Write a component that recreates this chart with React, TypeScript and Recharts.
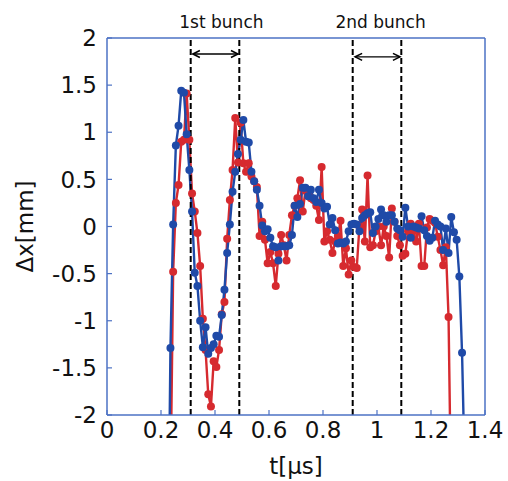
import {
  LineChart,
  Line,
  XAxis,
  YAxis,
  ReferenceLine,
} from "recharts";

// sample times [us], one reading every 10 ns
const TIME = [
  0.225, 0.235, 0.245, 0.255, 0.265, 0.275, 0.285, 0.295, 0.305, 0.315,
  0.325, 0.335, 0.345, 0.355, 0.365, 0.375, 0.385, 0.395, 0.405, 0.415,
  0.425, 0.435, 0.445, 0.455, 0.465, 0.475, 0.485, 0.495, 0.505, 0.515,
  0.525, 0.535, 0.545, 0.555, 0.565, 0.575, 0.585, 0.595, 0.605, 0.615,
  0.625, 0.635, 0.645, 0.655, 0.665, 0.675, 0.685, 0.695, 0.705, 0.715,
  0.725, 0.735, 0.745, 0.755, 0.765, 0.775, 0.785, 0.795, 0.805, 0.815,
  0.825, 0.835, 0.845, 0.855, 0.865, 0.875, 0.885, 0.895, 0.905, 0.915,
  0.925, 0.935, 0.945, 0.955, 0.965, 0.975, 0.985, 0.995, 1.005, 1.015,
  1.025, 1.035, 1.045, 1.055, 1.065, 1.075, 1.085, 1.095, 1.105, 1.115,
  1.125, 1.135, 1.145, 1.155, 1.165, 1.175, 1.185, 1.195, 1.205, 1.215,
  1.225, 1.235, 1.245, 1.255, 1.265, 1.275, 1.285, 1.295, 1.305, 1.315,
  1.325,
];

// beam position offset [mm]
const RED = [
  null, -2.8, -0.48, 0.25, 0.44, 0.9, 0.92, 1.41, 0.92, 0.35,
  0.16, -0.07, -0.42, -0.98, -1.31, -1.78, -1.91, -1.43, -1.49, -1.31,
  -0.93, -0.8, -0.13, 0.28, 0.6, 1.15, 0.68, 1.1, 0.67, 0.58,
  0.67, 0.53, 0.48, 0.42, -0.1, 0.05, -0.14, -0.39, -0.27, -0.39,
  -0.63, -0.29, -0.09, -0.2, -0.36, -0.09, 0.12, 0.22, 0.3, 0.49,
  0.16, 0.38, 0.36, 0.3, 0.28, 0.22, 0.07, 0.63, -0.16, -0.05,
  -0.14, -0.28, -0.16, -0.1, 0.06, -0.42, -0.23, -0.51, -0.36, -0.43,
  -0.44, 0.0, 0.18, -0.16, 0.54, -0.22, -0.2, -0.05, 0.0, -0.2,
  0.0, -0.1, -0.33, 0.19, 0.05, -0.1, -0.2, -0.31, -0.29, -0.05,
  0.03, -0.05, -0.16, 0.03, -0.42, -0.42, -0.01, 0.08, 0.06, 0.04,
  -0.11, -0.25, -0.41, -0.22, -0.96, -3.0, null, null, null, null,
  null,
];

const BLUE = [
  -4.0, -1.29, 0.02, 0.86, 1.07, 1.44, 1.42, 0.98, 0.6, 0.16,
  -0.49, -0.63, -1.0, -1.28, -1.07, -1.35, -1.29, -1.25, -1.16, -1.17,
  -0.94, -0.67, -0.28, 0.02, 0.37, 0.58, 0.77, 0.92, 1.13, 0.9,
  0.89, 0.58, 0.48, 0.39, 0.22, 0.01, -0.05, -0.03, -0.12, -0.21,
  -0.22, -0.36, -0.21, -0.21, -0.21, -0.2, -0.09, 0.22, 0.1, 0.24,
  0.41, 0.41, 0.32, 0.39, 0.3, 0.26, 0.39, 0.25, 0.19, 0.21,
  0.02, 0.09, -0.04, -0.18, -0.17, -0.18, -0.16, -0.05, 0.02, 0.03,
  0.02, -0.05, 0.09, 0.12, 0.14, 0.15, -0.07, 0.0, 0.08, 0.18,
  0.12, 0.05, 0.12, 0.12, 0.05, -0.02, -0.04, -0.11, 0.2, 0.0,
  -0.12, 0.0, -0.01, -0.02, 0.11, -0.04, -0.1, -0.15, -0.12, 0.06,
  0.02, 0.0, -0.25, -0.02, -0.28, 0.1, -0.06, -0.14, -0.53, -1.34,
  -2.6,
];

const X_TICKS = [0, 0.2, 0.4, 0.6, 0.8, 1, 1.2, 1.4];
const Y_TICKS = [-2, -1.5, -1, -0.5, 0, 0.5, 1, 1.5, 2];
const BUNCH_EDGES = [0.31, 0.49, 0.91, 1.09];

const BUNCHES = [
  { name: "1st bunch", from: 0.318, to: 0.485, y: 1.83, shift: 6, dy: -26 },
  { name: "2nd bunch", from: 0.919, to: 1.085, y: 1.8, shift: 3, dy: -29 },
];

const FRAME = "#4d72c4";
const RED_C = "#d62a2f";
const BLUE_C = "#1f4aa8";
const FONT = "DejaVu Sans";

const data = TIME.map((t, i) => ({ t, red: RED[i], blue: BLUE[i] }));

const tickStyle = { fontSize: 23, fontFamily: FONT, fill: "#111" };

// double headed arrow with its caption above
const makeArrow = (text: string, shift: number, dy: number) => {
  // eslint-disable-next-line @typescript-eslint/no-explicit-any
  return (p: any) => {
    const { x1, y1, x2, y2 } = p;
    const h = 7;
    const w = 3.5;
    return (
      <g>
        <line x1={x1} y1={y1} x2={x2} y2={y2} stroke="#000" strokeWidth={1.3} />
        <polyline
          points={`${x1 + h},${y1 - w} ${x1},${y1} ${x1 + h},${y1 + w}`}
          fill="none"
          stroke="#000"
          strokeWidth={1.6}
        />
        <polyline
          points={`${x2 - h},${y2 - w} ${x2},${y2} ${x2 - h},${y2 + w}`}
          fill="none"
          stroke="#000"
          strokeWidth={1.6}
        />
        <text
          x={(x1 + x2) / 2 + shift}
          y={y1 + dy}
          textAnchor="middle"
          fontSize={17}
          fontFamily={FONT}
          fill="#111"
        >
          {text}
        </text>
      </g>
    );
  };
};

export default function App() {
  return (
    <div style={{ position: "absolute", left: 0, top: 0 }}>
      <LineChart
        width={508}
        height={481}
        data={data}
        margin={{ top: 37, right: 22, bottom: 7, left: 10 }}
      >
        <XAxis
          dataKey="t"
          type="number"
          domain={[0, 1.4]}
          ticks={X_TICKS}
          interval={0}
          allowDataOverflow
          height={59}
          tickSize={-5}
          tickMargin={12}
          axisLine={{ stroke: FRAME, strokeWidth: 1.5 }}
          tickLine={{ stroke: FRAME, strokeWidth: 1.2 }}
          tick={tickStyle}
          label={{
            value: "t[μs]",
            position: "insideBottom",
            offset: 0,
            style: { fontSize: 23, fontFamily: FONT, fill: "#111" },
          }}
        />
        <XAxis
          xAxisId="top"
          orientation="top"
          type="number"
          domain={[0, 1.4]}
          ticks={X_TICKS}
          interval={0}
          height={1}
          tickSize={-5}
          tick={false}
          axisLine={{ stroke: FRAME, strokeWidth: 1.5 }}
          tickLine={{ stroke: FRAME, strokeWidth: 1.2 }}
        />
        <YAxis
          type="number"
          domain={[-2, 2]}
          ticks={Y_TICKS}
          interval={0}
          allowDataOverflow
          width={97}
          tickSize={-5}
          tickMargin={15}
          axisLine={{ stroke: FRAME, strokeWidth: 1.5 }}
          tickLine={{ stroke: FRAME, strokeWidth: 1.2 }}
          tick={tickStyle}
          label={{
            value: "Δx[mm]",
            angle: -90,
            position: "insideLeft",
            offset: 15,
            style: {
              textAnchor: "middle",
              fontSize: 23,
              fontFamily: FONT,
              fill: "#111",
            },
          }}
        />
        <YAxis
          yAxisId="right"
          orientation="right"
          type="number"
          domain={[-2, 2]}
          ticks={Y_TICKS}
          interval={0}
          width={1}
          tickSize={-5}
          tick={false}
          axisLine={{ stroke: FRAME, strokeWidth: 1.5 }}
          tickLine={{ stroke: FRAME, strokeWidth: 1.2 }}
        />

        <Line
          dataKey="red"
          stroke={RED_C}
          strokeWidth={2.4}
          dot={{ r: 4, fill: RED_C, stroke: RED_C, strokeWidth: 0 }}
          activeDot={false}
          isAnimationActive={false}
        />
        <Line
          dataKey="blue"
          stroke={BLUE_C}
          strokeWidth={2.4}
          dot={{ r: 4, fill: BLUE_C, stroke: BLUE_C, strokeWidth: 0 }}
          activeDot={false}
          isAnimationActive={false}
        />

        {BUNCH_EDGES.map((x) => (
          <ReferenceLine
            key={x}
            x={x}
            stroke="#000"
            strokeWidth={2}
            strokeDasharray="6 3"
          />
        ))}
        {BUNCHES.map((b) => (
          <ReferenceLine
            key={b.name}
            segment={[
              { x: b.from, y: b.y },
              { x: b.to, y: b.y },
            ]}
            ifOverflow="visible"
            shape={makeArrow(b.name, b.shift, b.dy)}
          />
        ))}
      </LineChart>
    </div>
  );
}
